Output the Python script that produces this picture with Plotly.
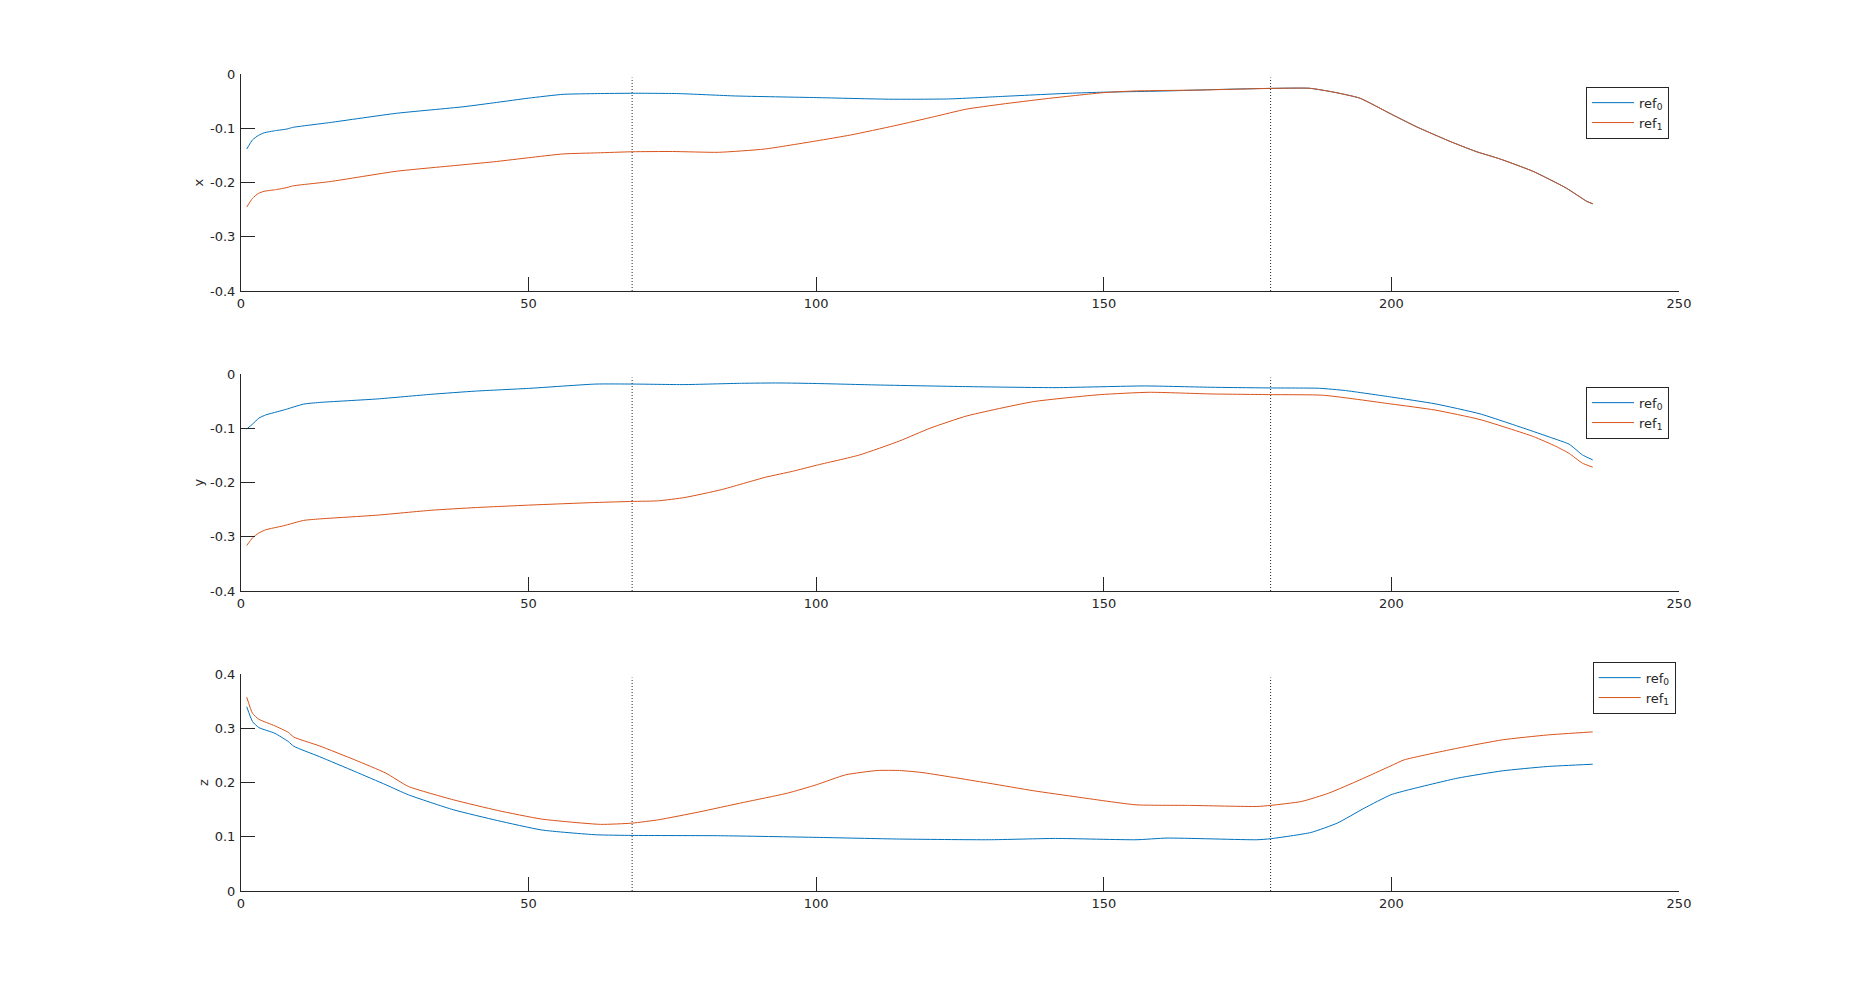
import plotly.graph_objects as go

# ---------------- data ----------------
SERIES_NAMES = ["ref<sub>0</sub>", "ref<sub>1</sub>"]
VLINES = [68, 179]

# panel 1 : x
X_REF0_T = [1, 2, 3, 4, 6, 8, 9, 15.5, 27, 38.6, 44.4, 50, 56, 62, 68, 76, 86, 100, 113, 123, 132,
            144, 150, 160, 171, 179, 185.8, 190, 194.5, 200, 204.3, 210, 214.7, 218.8, 224.6, 230.4, 234, 235]
X_REF0_V = [-0.138, -0.121, -0.113, -0.108, -0.104, -0.101, -0.098, -0.089, -0.072, -0.060, -0.052, -0.044,
            -0.037, -0.0356, -0.035, -0.0356, -0.040, -0.043, -0.046, -0.0455, -0.041, -0.035, -0.033, -0.031,
            -0.0277, -0.026, -0.0258, -0.033, -0.044, -0.0737, -0.0965, -0.123, -0.1425, -0.156, -0.179,
            -0.210, -0.2347, -0.239]
X_REF1_T = [1, 2, 3, 4, 6, 8, 9, 15.5, 27, 38.6, 44.4, 50, 56, 62, 68, 75, 83, 91, 100, 106, 113.6, 120.6,
            126, 132.3, 140, 150, 155.6, 167, 179, 185.8, 190, 194.5, 200, 204.3, 210, 214.7, 218.8, 224.6,
            230.4, 234, 235]
X_REF1_V = [-0.245, -0.229, -0.220, -0.216, -0.213, -0.209, -0.206, -0.198, -0.179, -0.167, -0.161, -0.154,
            -0.147, -0.145, -0.143, -0.1425, -0.144, -0.138, -0.123, -0.112, -0.095, -0.078, -0.0645, -0.055,
            -0.045, -0.0338, -0.0307, -0.029, -0.026, -0.0258, -0.033, -0.044, -0.0737, -0.0965, -0.123,
            -0.1425, -0.156, -0.179, -0.210, -0.2347, -0.239]

# panel 2 : y
Y_REF0_T = [1, 2, 3.1, 4.3, 7.4, 10.9, 13.6, 23.7, 33, 40.8, 50, 61.7, 68, 77, 87, 93.5, 100, 110.6, 126,
            141.7, 157, 169, 179, 187.5, 192, 200, 207.6, 215.4, 223, 227.8, 230.9, 233.2, 235]
Y_REF0_V = [-0.101, -0.092, -0.081, -0.075, -0.066, -0.055, -0.052, -0.0455, -0.037, -0.031, -0.026, -0.018,
            -0.018, -0.019, -0.0166, -0.016, -0.017, -0.0197, -0.0227, -0.0246, -0.0215, -0.024, -0.0252,
            -0.0258, -0.030, -0.042, -0.0545, -0.073, -0.0995, -0.117, -0.129, -0.1487, -0.158]
Y_REF1_T = [1, 2, 3.1, 4.3, 7.4, 10.9, 13.6, 23.7, 33, 40.8, 50, 61.7, 68, 72.6, 77.2, 83.5, 91.2, 95.9, 100,
            107.5, 114.5, 119.8, 126.2, 137.8, 149.4, 157.9, 168.8, 179, 188.2, 199.9, 207.6, 215.4, 224.7,
            228.6, 230.9, 233.2, 235]
Y_REF1_V = [-0.316, -0.302, -0.293, -0.287, -0.2796, -0.2697, -0.267, -0.260, -0.251, -0.246, -0.2415,
            -0.2366, -0.2347, -0.2335, -0.2273, -0.213, -0.190, -0.179, -0.168, -0.149, -0.123, -0.0995,
            -0.0768, -0.0504, -0.0375, -0.0332, -0.0363, -0.0375, -0.0387, -0.0547, -0.066, -0.0835, -0.115,
            -0.133, -0.146, -0.164, -0.1714]

# panel 3 : z
Z_REF0_T = [1, 2, 3.1, 5.9, 8.2, 9.2, 13.6, 19.8, 25.2, 29.1, 36.9, 44.6, 52.3, 61.7, 68, 83.4, 100, 114.5,
            130, 141.6, 155.6, 161, 176.6, 179, 186, 190.6, 195.3, 199.9, 203, 211.5, 219.3, 227.1, 235]
Z_REF0_V = [0.340, 0.3128, 0.3017, 0.291, 0.276, 0.267, 0.2482, 0.2206, 0.196, 0.1776, 0.150, 0.130, 0.1126,
            0.1038, 0.1026, 0.102, 0.099, 0.0959, 0.0946, 0.097, 0.0946, 0.0977, 0.0946, 0.0965, 0.108,
            0.1254, 0.153, 0.1776, 0.1868, 0.2083, 0.2218, 0.2298, 0.234]
Z_REF1_T = [1, 2, 3.1, 5.9, 8.2, 9.2, 13.6, 19.8, 25.2, 29.1, 36.9, 44.6, 52.3, 62.5, 68, 72.6, 79.5, 87.3,
            95, 100, 105.1, 110.6, 114.5, 118.4, 130, 137.8, 145.5, 155.6, 164.9, 176.6, 179, 184.4, 189.1,
            194.5, 199.9, 202.2, 211.5, 219.3, 227.1, 235]
Z_REF1_V = [0.3576, 0.328, 0.317, 0.3048, 0.293, 0.284, 0.268, 0.242, 0.2175, 0.193, 0.1684, 0.1487, 0.1327,
            0.123, 0.1253, 0.1315, 0.1456, 0.1634, 0.1806, 0.196, 0.2144, 0.2224, 0.2224, 0.2187, 0.199,
            0.185, 0.1733, 0.1591, 0.158, 0.156, 0.158, 0.1653, 0.1806, 0.205, 0.231, 0.242, 0.2636, 0.279,
            0.288, 0.2937]

PANELS = [
    ("x", X_REF0_T, X_REF0_V, X_REF1_T, X_REF1_V, [-0.4, 0]),
    ("y", Y_REF0_T, Y_REF0_V, Y_REF1_T, Y_REF1_V, [-0.4, 0]),
    ("z", Z_REF0_T, Z_REF0_V, Z_REF1_T, Z_REF1_V, [0, 0.4]),
]
X_TICKS = [0, 50, 100, 150, 200, 250]

# ---------------- style ----------------
OFF = 8                      # page body margin
W, H = 1855 - 2 * OFF, 1001 - 2 * OFF
COLORS = ["#0072BD", "#D95319"]
AXC = "#262626"
FONT = "DejaVu Sans"
FS = 13


def px_x(p):
    return (p - OFF) / W


def px_y(p):
    return 1 - (p - OFF) / H


XDOM = [px_x(241), px_x(1679)]
YDOMS = [[px_y(291), px_y(74.3)], [px_y(591), px_y(374.3)], [px_y(891), px_y(674.3)]]
LEG_POS = [(px_x(1586), px_y(86.7)), (px_x(1586), px_y(386.7)), (px_x(1592.7), px_y(661.7))]

fig = go.Figure()
layout = dict(
    width=W, height=H, margin=dict(l=0, r=0, t=0, b=0, autoexpand=False),
    paper_bgcolor="white", plot_bgcolor="white",
    font=dict(family=FONT, size=FS, color=AXC),
    shapes=[],
)

for i, (lab, t0, v0, t1, v1, rng) in enumerate(PANELS):
    n = "" if i == 0 else str(i + 1)
    leg = "legend" + n
    for t, v, c, name in [(t0, v0, COLORS[0], SERIES_NAMES[0]), (t1, v1, COLORS[1], SERIES_NAMES[1])]:
        fig.add_trace(go.Scatter(x=t, y=v, mode="lines", name=name,
                                 line=dict(color=c, width=1, shape="spline", smoothing=0.5),
                                 xaxis="x" + n, yaxis="y" + n, legend=leg))
    step = 0.1
    yt = [round(rng[0] + k * step, 1) for k in range(5)]
    ytxt = ["0" if abs(val) < 1e-9 else ("%.1f" % val) for val in yt]
    common = dict(showline=True, linecolor=AXC, linewidth=1, ticks="inside", ticklen=14,
                  tickwidth=1, tickcolor=AXC, showgrid=False, zeroline=False, mirror=False,
                  automargin=False, tickfont=dict(family=FONT, size=FS, color=AXC))
    layout["xaxis" + n] = dict(common, domain=XDOM, range=[0, 250], tickvals=X_TICKS,
                               ticktext=[str(v) for v in X_TICKS], anchor="y" + n)
    layout["yaxis" + n] = dict(common, domain=YDOMS[i], range=rng, tickvals=yt, ticktext=ytxt,
                               anchor="x" + n, ticklabelstandoff=2,
                               title=dict(text=lab, standoff=3,
                                          font=dict(family=FONT, size=FS, color=AXC)))
    for xv in VLINES:
        layout["shapes"].append(dict(type="line", xref="x" + n, yref="y" + n + " domain",
                                     x0=xv, x1=xv, y0=0, y1=0.985,
                                     line=dict(color=AXC, width=1, dash="1px,2px")))
    lx, ly = LEG_POS[i]
    layout[leg] = dict(x=lx, y=ly, xanchor="left", yanchor="top", bgcolor="white",
                       bordercolor=AXC, borderwidth=1, font=dict(family=FONT, size=FS, color=AXC),
                       tracegroupgap=0, itemwidth=42)

fig.update_layout(**layout)
fig.write_html("out.html")
